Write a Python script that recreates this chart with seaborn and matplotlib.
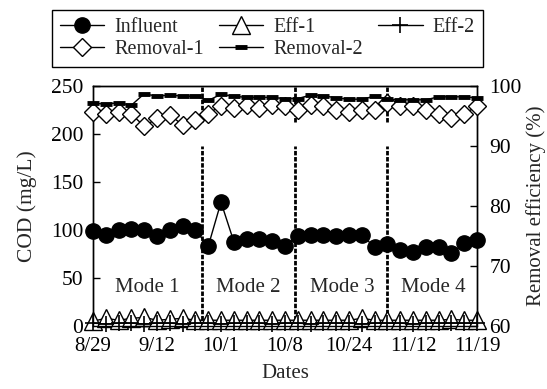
import matplotlib
matplotlib.use("Agg")
import matplotlib.pyplot as plt
import seaborn as sns
import numpy as np
import pandas as pd

sns.set_style("ticks")
plt.rcParams['font.family'] = ['Liberation Serif', 'DejaVu Serif']
plt.rcParams['font.size'] = 15

# ---- data ----
sample_idx = list(range(31))
influent = [99, 95, 100, 101, 100, 94, 100, 104, 100, 83, 129, 88, 91, 91, 89, 83,
            94, 95, 95, 94, 95, 95, 82, 85, 79, 77, 82, 82, 76, 86, 90]
eff1 = [5, 8, 6, 8, 9, 6, 7, 8, 6, 6, 6, 6, 6, 6, 6, 6,
        6, 6, 6, 6, 6, 8, 6, 6, 6, 6, 6, 6, 7, 6, 6]
eff2 = [3, 2, 3, 3, 2, 3, 3, 2, 3, 3, 2, 3, 3, 3, 2, 3,
        3, 2, 3, 3, 3, 2, 3, 3, 3, 2, 3, 3, 3, 3, 3]
removal1 = [95.6, 95.3, 95.7, 95.3, 93.3, 94.6, 95.2, 93.5, 94.3, 95.4, 96.7, 96.3, 96.8, 96.3, 96.8, 96.7,
            96.0, 96.8, 96.6, 96.0, 95.7, 96.0, 96.0, 97.1, 96.6, 96.6, 96.0, 95.4, 94.6, 95.4, 96.6]
removal2 = [97.1, 97.0, 97.2, 96.8, 98.7, 98.3, 98.5, 98.3, 98.3, 97.6, 98.6, 98.3, 98.1, 98.1, 98.1, 97.9,
            97.9, 98.5, 98.4, 98.0, 97.8, 97.8, 98.3, 97.8, 97.7, 97.7, 97.7, 98.2, 98.2, 98.2, 98.0]
tick_pos = [0, 5, 10, 15, 20, 25, 30]
tick_labels = ["8/29", "9/12", "10/1", "10/8", "10/24", "11/12", "11/19"]
mode_bounds = [8.5, 15.8, 23.0]
mode_labels = ["Mode 1", "Mode 2", "Mode 3", "Mode 4"]
mode_label_x = [4.2, 12.1, 19.45, 26.6]

df = pd.DataFrame({"idx": sample_idx, "Influent": influent, "Eff-1": eff1, "Eff-2": eff2,
                   "Removal-1": removal1, "Removal-2": removal2})

W, H = 547, 389
fig = plt.figure(figsize=(W / 100, H / 100), dpi=100)
ax = fig.add_axes([93 / W, 1 - 326 / H, (477 - 93) / W, (326 - 86) / H])
ax2 = ax.twinx()

common = dict(color="black", linewidth=1, clip_on=False, markeredgecolor="black")

# mode boundary lines (behind data)
for xb in mode_bounds:
    ax.plot([xb, xb], [0, 187], color="black", lw=2, linestyle=(0, (1.6, 0.6)), zorder=1, clip_on=False)
    ax.plot([xb, xb], [213, 250], color="black", lw=2, linestyle=(0, (1.6, 0.6)), zorder=1, clip_on=False)

sns.lineplot(data=df, x="idx", y="Influent", ax=ax, marker="o", markersize=11,
             markerfacecolor="black", markeredgewidth=1, zorder=3, **common)
sns.lineplot(data=df, x="idx", y="Eff-1", ax=ax, marker="^", markersize=12.5,
             markerfacecolor="white", markeredgewidth=1, zorder=3, **common)
sns.lineplot(data=df, x="idx", y="Eff-2", ax=ax, marker="+", markersize=12,
             markeredgewidth=1.2, zorder=3, **common)
sns.lineplot(data=df, x="idx", y="Removal-1", ax=ax2, marker="D", markersize=9,
             markerfacecolor="white", markeredgewidth=1, zorder=3, **common)
sns.lineplot(data=df, x="idx", y="Removal-2", ax=ax2, marker="_", markersize=9,
             markeredgewidth=3.5, zorder=3, **common)

for xl, lab in zip(mode_label_x, mode_labels):
    ax.text(xl, 40, lab, ha="center", va="center", fontsize=15)

ax.set_xlim(0, 30)
ax.set_ylim(0, 250)
ax.set_yticks([0, 50, 100, 150, 200, 250])
ax.set_xticks(tick_pos)
ax.set_xticklabels(tick_labels)
ax2.set_ylim(60, 100)
ax2.set_yticks([60, 70, 80, 90, 100])

for a in (ax, ax2):
    for s in a.spines.values():
        s.set_visible(True)
        s.set_color("black")
        s.set_linewidth(1)
ax.tick_params(axis="y", direction="in", length=5, width=1, labelsize=15.5, colors="black", pad=7)
ax2.tick_params(axis="y", direction="in", length=5, width=1, labelsize=15.5, colors="black", pad=9)
ax.tick_params(axis="x", length=0, labelsize=15, colors="black", pad=8)

ax.set_xlabel("Dates", fontsize=15, labelpad=6)
ax.set_ylabel("COD (mg/L)", fontsize=15.5, labelpad=10)
ax2.set_ylabel("Removal efficiency (%)", fontsize=15, labelpad=3)

handles = [ax.lines[6], ax2.lines[0], ax.lines[7], ax2.lines[1], ax.lines[8]]
labels = ["Influent", "Removal-1", "Eff-1", "Removal-2", "Eff-2"]
leg = fig.legend(handles, labels, ncol=3, loc="lower left",
                 bbox_to_anchor=(52 / W, 1 - 67 / H, (483 - 52) / W, 60 / H), mode="expand",
                 frameon=True, fancybox=False, edgecolor="black", framealpha=1,
                 fontsize=14.5, handlelength=2.2, handletextpad=0.5, borderpad=0.4,
                 labelspacing=0.12, borderaxespad=0, columnspacing=1.0)
leg.get_frame().set_linewidth(1)

fig.savefig("out.png", dpi=100)
